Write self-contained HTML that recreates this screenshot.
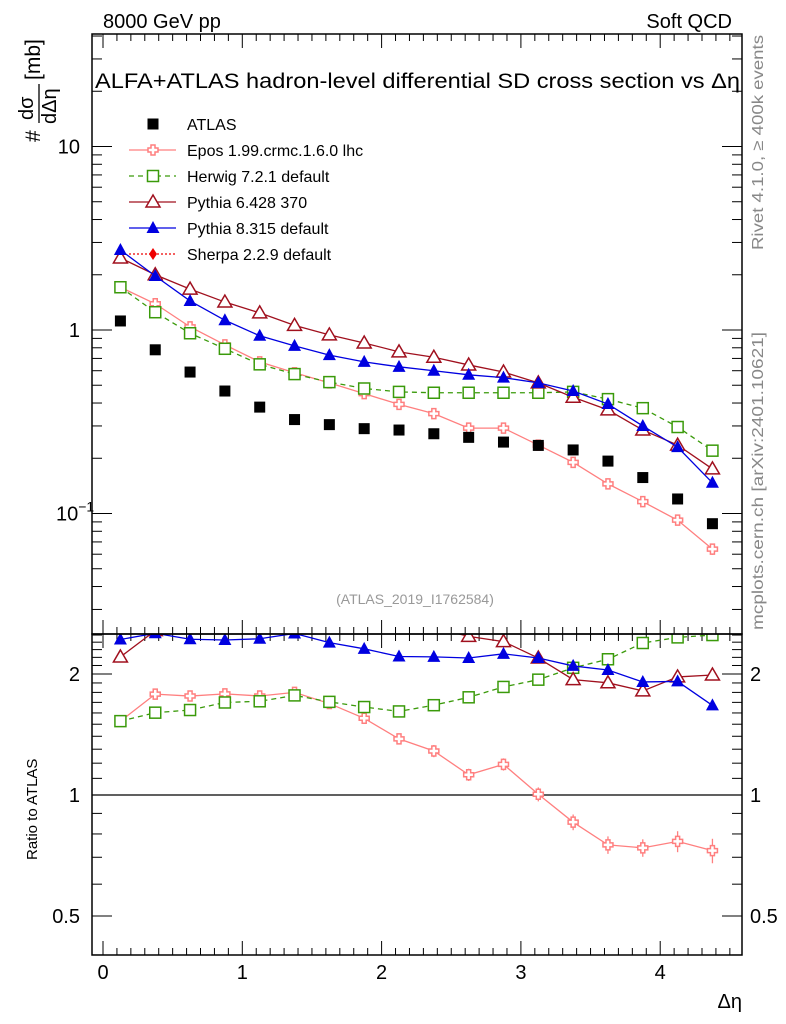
<!DOCTYPE html>
<html><head><meta charset="utf-8">
<style>
body{margin:0;background:#fff;}
svg{display:block;font-family:"Liberation Sans",sans-serif;}
</style></head>
<body>
<svg id="c" width="786" height="1024" xmlns="http://www.w3.org/2000/svg">
<text x="103" y="28" font-size="20">8000 GeV pp</text>
<text x="732" y="28" font-size="20" text-anchor="end">Soft QCD</text>
<text x="95" y="88" font-size="21" textLength="645" lengthAdjust="spacingAndGlyphs">ALFA+ATLAS hadron-level differential SD cross section vs Δη</text>
<text transform="translate(763,250) rotate(-90)" font-size="16" fill="#888" textLength="215" lengthAdjust="spacingAndGlyphs">Rivet 4.1.0, ≥ 400k events</text>
<text transform="translate(763,630) rotate(-90)" font-size="16" fill="#888" textLength="298" lengthAdjust="spacingAndGlyphs">mcplots.cern.ch [arXiv:2401.10621]</text>
<text x="415" y="604" font-size="14" fill="#999" text-anchor="middle">(ATLAS_2019_I1762584)</text>
<g transform="translate(40,90) rotate(-90)">
<text x="-52" y="0" font-size="21">#</text>
<text x="-30" y="-7" font-size="20">dσ</text>
<line x1="-33" y1="-1" x2="6" y2="-1" stroke="#000" stroke-width="1.3"/>
<text x="-34" y="16" font-size="20">dΔη</text>
<text x="10" y="0" font-size="21">[mb]</text>
</g>
<text transform="translate(37,860) rotate(-90)" font-size="15">Ratio to ATLAS</text>
<text x="742" y="1008" font-size="20" text-anchor="end">Δη</text>
<g id="g"></g>
<rect x="92" y="34" width="650" height="600" fill="none" stroke="#000" stroke-width="1.5"/>
<rect x="92" y="634" width="650" height="321" fill="none" stroke="#000" stroke-width="1.5"/>
</svg>
<script>
const xs=[0.125,0.375,0.625,0.875,1.125,1.375,1.625,1.875,2.125,2.375,2.625,2.875,3.125,3.375,3.625,3.875,4.125,4.375];
const atlas=[1.12,0.78,0.59,0.465,0.38,0.325,0.305,0.29,0.285,0.272,0.26,0.245,0.235,0.222,0.193,0.157,0.12,0.088];
const epos=[1.71,1.39,1.04,0.83,0.67,0.585,0.515,0.45,0.393,0.35,0.292,0.292,0.236,0.19,0.145,0.116,0.092,0.064];
const herwig=[1.71,1.25,0.96,0.79,0.65,0.575,0.52,0.48,0.46,0.455,0.455,0.455,0.455,0.46,0.42,0.375,0.296,0.22];
const py6=[2.47,2.0,1.67,1.42,1.24,1.06,0.94,0.85,0.76,0.71,0.645,0.59,0.515,0.43,0.367,0.285,0.236,0.175];
const py8=[2.73,1.97,1.44,1.13,0.93,0.82,0.73,0.67,0.63,0.6,0.57,0.55,0.515,0.465,0.395,0.30,0.23,0.147];
const eposErr=[0.02,0.02,0.02,0.025,0.025,0.03,0.03,0.03,0.03,0.035,0.035,0.035,0.04,0.045,0.05,0.05,0.06,0.07];
const xTicks=[0,1,2,3,4];
const ratioTicks=[0.5,1,2];
const NS="http://www.w3.org/2000/svg";
const g=document.getElementById('g');
const X=v=>103+v*139.3;
const Y=v=>330-Math.log10(v)*183.5;
const R=v=>795-Math.log2(v)*121;
function el(t,a,p){const e=document.createElementNS(NS,t);for(const k in a)e.setAttribute(k,a[k]);(p||g).appendChild(e);return e;}
const defs=el('defs',{});
const c1=el('clipPath',{id:'cm'},defs);el('rect',{x:92,y:34,width:650,height:600},c1);
const c2=el('clipPath',{id:'cr'},defs);el('rect',{x:92,y:634,width:650,height:321},c2);
for(let v=0;v<=4.6;v+=0.1){const x=X(v);if(x>742)break;const maj=Math.abs(v-Math.round(v))<1e-6;const L=maj?14:7;
 for(const [yb,yt] of [[634,34],[955,634]]){el('line',{x1:x,y1:yb,x2:x,y2:yb-L,stroke:'#000'});el('line',{x1:x,y1:yt,x2:x,y2:yt+L,stroke:'#000'});}}
xTicks.forEach(v=>{const t=el('text',{x:X(v),y:979,'font-size':20,'text-anchor':'middle'});t.textContent=v;

});
for(let d=-2;d<=1;d++)for(let m=1;m<10;m++){const v=m*Math.pow(10,d);const y=Y(v);if(y<34||y>634)continue;const L=m==1?20:10;
 el('line',{x1:92,y1:y,x2:92+L,y2:y,stroke:'#000'});el('line',{x1:742,y1:y,x2:742-L,y2:y,stroke:'#000'});}
[[10,'10'],[1,'1']].forEach(([v,s])=>{const t=el('text',{x:80,y:Y(v)+7,'font-size':20,'text-anchor':'end'});t.textContent=s;

});
{const t=el('text',{x:56,y:Y(0.1)+7,'font-size':20});t.innerHTML='10<tspan dy="-9" font-size="14">−1</tspan>';

}
for(let v=0.4;v<=2.6;v+=0.1){const vv=Math.round(v*10)/10;const y=R(vv);if(y<634||y>955)continue;const maj=(vv==0.5||vv==1||vv==2);const L=maj?20:10;
 el('line',{x1:92,y1:y,x2:92+L,y2:y,stroke:'#000'});el('line',{x1:742,y1:y,x2:742-L,y2:y,stroke:'#000'});}
ratioTicks.forEach(v=>{let t=el('text',{x:80,y:R(v)+7,'font-size':20,'text-anchor':'end'});t.textContent=v;


t=el('text',{x:750,y:R(v)+7,'font-size':20});t.textContent=v;

});
el('line',{x1:92,y1:R(1),x2:742,y2:R(1),stroke:'#000','stroke-width':1.3});
function marker(p,type,col,x,y){
 if(type=='sq')return el('rect',{x:x-5.5,y:y-5.5,width:11,height:11,fill:col},p);
 if(type=='osq')return el('rect',{x:x-5.5,y:y-5.5,width:11,height:11,fill:'#fff',stroke:col,'stroke-width':1.5},p);
 if(type=='otri')return el('polygon',{points:`${x},${y-7} ${x-7},${y+5} ${x+7},${y+5}`,fill:'#fff',stroke:col,'stroke-width':1.5},p);
 if(type=='tri')return el('polygon',{points:`${x},${y-7} ${x-6.5},${y+5} ${x+6.5},${y+5}`,fill:col},p);
 if(type=='cross')return el('path',{d:`M${x-2},${y-5}h4v3h3v4h-3v3h-4v-3h-3v-4h3z`,fill:'#fff',stroke:col,'stroke-width':1.5},p);
 if(type=='dia')return el('polygon',{points:`${x},${y-6} ${x+4},${y} ${x},${y+6} ${x-4},${y}`,fill:col},p);
}
const series=[
 {n:'epos',d:epos,c:'#ff7f7f',m:'cross',dash:'',err:eposErr},
 {n:'herwig',d:herwig,c:'#3a9a0a',m:'osq',dash:'5,4'},
 {n:'pythia6',d:py6,c:'#a0101e',m:'otri',dash:''},
 {n:'pythia8',d:py8,c:'#0000e0',m:'tri',dash:''}];
const gm=el('g',{'clip-path':'url(#cm)'});const gr=el('g',{'clip-path':'url(#cr)'});
series.forEach(s=>{
 const pts=xs.map((x,i)=>X(x)+','+Y(s.d[i])).join(' ');
 let l=el('polyline',{points:pts,fill:'none',stroke:s.c,'stroke-width':1.3,'stroke-dasharray':s.dash},gm);
 
 
 const rp=xs.map((x,i)=>X(x)+','+R(s.d[i]/atlas[i])).join(' ');
 l=el('polyline',{points:rp,fill:'none',stroke:s.c,'stroke-width':1.3,'stroke-dasharray':s.dash},gr);
 
 
 xs.forEach((x,i)=>{
  const v=s.d[i],r=v/atlas[i];
  if(s.err){const e=s.err[i];
   el('line',{x1:X(x),y1:Y(v*(1+e)),x2:X(x),y2:Y(v*(1-e)),stroke:s.c,'stroke-width':1.3},gm);
   el('line',{x1:X(x),y1:R(r*(1+e)),x2:X(x),y2:R(r*(1-e)),stroke:s.c,'stroke-width':1.3},gr);}
  let m=marker(gm,s.m,s.c,X(x),Y(v));
  
  
  m=marker(gr,s.m,s.c,X(x),R(r));
  
  
 });
});
xs.forEach((x,i)=>{const m=marker(gm,'sq','#000',X(x),Y(atlas[i]));
 
 });
const leg=[['ATLAS','#000','sq',''],['Epos 1.99.crmc.1.6.0 lhc','#ff7f7f','cross',''],['Herwig 7.2.1 default','#3a9a0a','osq','5,4'],['Pythia 6.428 370','#a0101e','otri',''],['Pythia 8.315 default','#0000e0','tri',''],['Sherpa 2.2.9 default','#ee0000','dia','2,2']];
leg.forEach((L,i)=>{const y=124+i*26;const lg=el('g',{});
 
 
 if(i>0)el('line',{x1:129,y1:y,x2:176,y2:y,stroke:L[1],'stroke-width':1.3,'stroke-dasharray':L[3]},lg);
 marker(lg,L[2],L[1],153,y);
 const t=el('text',{x:187,y:y+6,'font-size':16},lg);t.textContent=L[0];});
</script>
</body></html>
